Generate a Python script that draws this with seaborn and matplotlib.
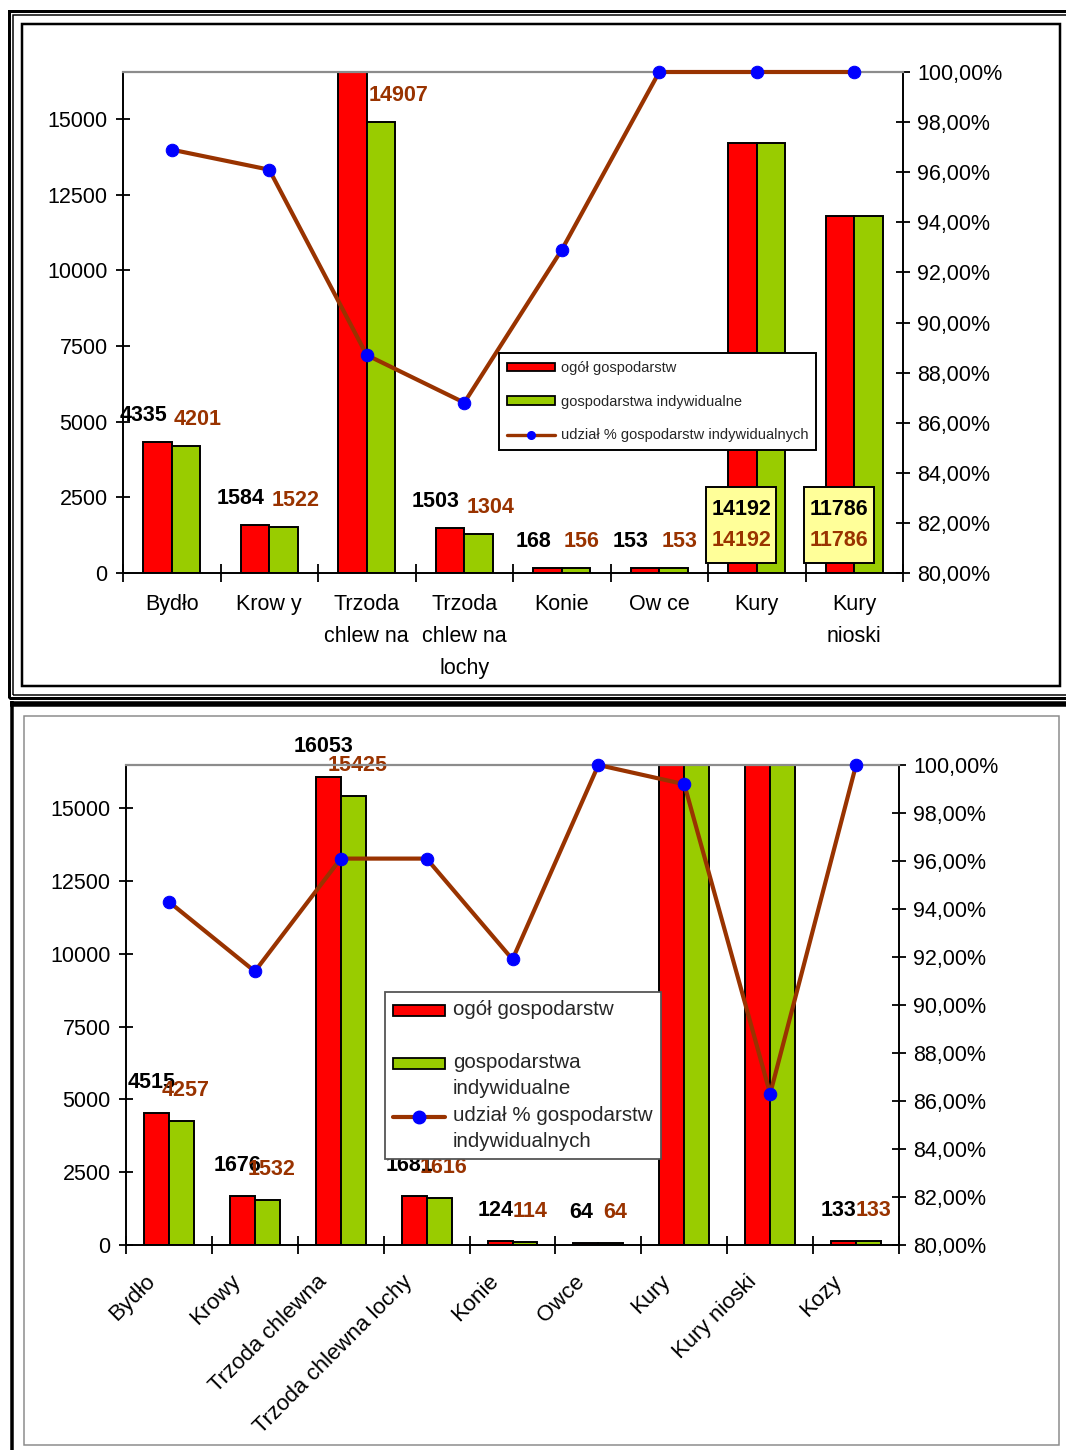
import numpy as np
import pandas as pd
import matplotlib
matplotlib.use("Agg")
import matplotlib.pyplot as plt
import matplotlib.transforms as mtransforms
import seaborn as sns
from matplotlib.patches import Rectangle, Patch
from matplotlib.lines import Line2D
from matplotlib.legend_handler import HandlerPatch, HandlerLine2D
from matplotlib.ticker import FuncFormatter

# ---------------- data ----------------
series_names = ["ogół gospodarstw", "gospodarstwa indywidualne"]
share_name = "udział % gospodarstw indywidualnych"

top_categories = ["Bydło", "Krow y", "Trzoda\nchlew na", "Trzoda\nchlew na\nlochy",
                  "Konie", "Ow ce", "Kury", "Kury\nnioski"]
top_total = [4335, 1584, 16800, 1503, 168, 153, 14192, 11786]
top_indiv = [4201, 1522, 14907, 1304, 156, 153, 14192, 11786]
top_share = [96.9, 96.1, 88.7, 86.8, 92.9, 100.0, 100.0, 100.0]
top_boxed = ["Kury", "Kury\nnioski"]

bottom_categories = ["Bydło", "Krowy", "Trzoda chlewna", "Trzoda chlewna lochy",
                     "Konie", "Owce", "Kury", "Kury nioski", "Kozy"]
bottom_total = [4515, 1676, 16053, 1681, 124, 64, 21800, 19500, 133]
bottom_indiv = [4257, 1532, 15425, 1616, 114, 64, 21620, 16830, 133]
bottom_share = [94.3, 91.4, 96.1, 96.1, 91.9, 100.0, 99.2, 86.3, 100.0]
bottom_legend_labels = ["ogół gospodarstw\n ", "gospodarstwa\nindywidualne",
                        "udział % gospodarstw\nindywidualnych"]

left_ticks = [0, 2500, 5000, 7500, 10000, 12500, 15000]
right_ticks = [80, 82, 84, 86, 88, 90, 92, 94, 96, 98, 100]

RED = "#FF0000"
GREEN = "#99CC00"
BROWN = "#993300"
BLUE = "#0000FF"
YELLOW = "#FFFF99"
TICK_FS = 15.5
LABEL_FS = 15.5

sns.set_theme(style="white")
plt.rcParams["font.family"] = ["Liberation Sans", "DejaVu Sans"]

W, H = 1066, 1450
fig = plt.figure(figsize=(W / 100, H / 100), dpi=100)
fig.patch.set_facecolor("white")


def px_rect(x0, y0, x1, y1, lw_px, color="black"):
    fig.add_artist(Rectangle((x0 / W, 1 - y1 / H), (x1 - x0) / W, (y1 - y0) / H,
                             transform=fig.transFigure, fill=False,
                             edgecolor=color, linewidth=lw_px * 0.72))


def px_line(x0, y0, x1, y1, lw_px, color="black"):
    fig.add_artist(Line2D([x0 / W, x1 / W], [1 - y0 / H, 1 - y1 / H],
                          transform=fig.transFigure, color=color,
                          linewidth=lw_px * 0.72, solid_capstyle="butt"))


# frames
px_rect(8.5, 11, 1075, 698, 3)
px_rect(12.5, 14.5, 1071, 695, 1.5)
px_rect(22, 24, 1060, 686, 2.5)
px_line(10, 703.5, 1070, 703.5, 5.5)
px_line(11.5, 701, 11.5, 1452, 3.5)
px_rect(24, 716, 1059, 1445, 1.5, color="#8a8a8a")

pct_fmt = FuncFormatter(lambda v, p: f"{v:.2f}".replace(".", ",") + "%")


def make_chart(ax, cats, total, indiv, share, ymax, marker_size):
    n = len(cats)
    df = pd.DataFrame({"kategoria": cats * 2,
                       "wartość": total + indiv,
                       "seria": [series_names[0]] * n + [series_names[1]] * n})
    sns.barplot(data=df, x="kategoria", y="wartość", hue="seria", order=cats,
                hue_order=series_names, palette=[RED, GREEN], saturation=1,
                width=0.58, gap=0, errorbar=None, edgecolor="black",
                linewidth=1.4, legend=False, ax=ax)
    ax.set_ylim(0, ymax)
    ax.set_xlabel("")
    ax.set_ylabel("")
    ax.set_yticks(left_ticks)
    ax.tick_params(axis="y", which="major", left=True, direction="inout", length=10,
                   width=1.3, labelsize=TICK_FS, pad=6, color="black", labelcolor="black")
    ax.set_xticks(np.arange(-0.5, n, 1), minor=True)
    ax.tick_params(axis="x", which="minor", bottom=True, direction="inout", length=13,
                   width=1.3, color="black")
    ax.tick_params(axis="x", which="major", bottom=True, length=0, labelsize=TICK_FS,
                   labelcolor="black")
    for s in ("top", "right"):
        ax.spines[s].set_visible(False)
    for s in ("left", "bottom"):
        ax.spines[s].set_color("black")
        ax.spines[s].set_linewidth(1.4)

    ax2 = ax.twinx()
    sns.lineplot(x=np.arange(n), y=share, ax=ax2, color=BROWN, linewidth=3,
                 marker="o", markersize=marker_size, markerfacecolor=BLUE,
                 markeredgecolor=BLUE, clip_on=False, zorder=5)
    ax2.set_ylim(80, 100)
    ax.set_xlim(-0.5, n - 0.5)
    ax2.set_yticks(right_ticks)
    ax2.yaxis.set_major_formatter(pct_fmt)
    ax2.tick_params(axis="y", right=True, direction="inout", length=10, width=1.3,
                    labelsize=TICK_FS, pad=5, color="black", labelcolor="black")
    ax2.set_ylabel("")
    ax2.set_xlabel("")
    ax2.spines["top"].set_color("#8c8c8c")
    ax2.spines["top"].set_linewidth(1.6)
    ax2.spines["right"].set_color("black")
    ax2.spines["right"].set_linewidth(1.4)
    ax2.spines["left"].set_visible(False)
    ax2.spines["bottom"].set_visible(False)
    ax2.patch.set_visible(False)
    return ax2


class ShiftPatch(HandlerPatch):
    def __init__(self, shift, **kw):
        super().__init__(**kw)
        self.shift = shift

    def create_artists(self, legend, orig_handle, xdescent, ydescent, width, height,
                       fontsize, trans):
        return super().create_artists(legend, orig_handle, xdescent,
                                      ydescent - self.shift, width, height, fontsize, trans)


class ShiftLine(HandlerLine2D):
    def __init__(self, shift, **kw):
        super().__init__(**kw)
        self.shift = shift

    def create_artists(self, *args, **kwargs):
        arts = super().create_artists(*args, **kwargs)
        for a in arts:
            a.set_ydata(np.asarray(a.get_ydata(), dtype=float) + self.shift)
        return arts


# ---------------- top chart ----------------
ax_t = fig.add_axes([123 / W, 1 - 573 / H, 780 / W, 501 / H])
ax_t2 = make_chart(ax_t, top_categories, top_total, top_indiv, top_share, 16550, 9)
ax_t.tick_params(axis="x", which="major", pad=15)
for lab in ax_t.get_xticklabels():
    lab.set_linespacing(1.7)
    lab.set_va("top")

blend_t = mtransforms.blended_transform_factory(ax_t.transData, ax_t.transAxes)
for i, cat in enumerate(top_categories):
    if cat in top_boxed:
        ax_t.add_patch(Rectangle((i - 0.52, 0.02), 0.72, 0.152, transform=blend_t,
                                 facecolor=YELLOW, edgecolor="black", linewidth=1.4,
                                 zorder=4))
        ax_t.text(i - 0.16, 0.126, f"{top_total[i]}", transform=blend_t, ha="center",
                  va="center", color="black", fontweight="bold", fontsize=LABEL_FS, zorder=5)
        ax_t.text(i - 0.16, 0.064, f"{top_indiv[i]}", transform=blend_t, ha="center",
                  va="center", color=BROWN, fontweight="bold", fontsize=LABEL_FS, zorder=5)
    else:
        ax_t.annotate(f"{top_total[i]}", xy=(i - 0.29, top_total[i]), xytext=(0, 19),
                      textcoords="offset points", ha="center", va="center",
                      color="black", fontweight="bold", fontsize=LABEL_FS, zorder=5)
        ax_t.annotate(f"{top_indiv[i]}", xy=(i + 0.02, top_indiv[i]), xytext=(0, 19),
                      textcoords="offset points", ha="left", va="center",
                      color=BROWN, fontweight="bold", fontsize=LABEL_FS, zorder=5)

handles_t = [Patch(facecolor=RED, edgecolor="black", linewidth=1.3),
             Patch(facecolor=GREEN, edgecolor="black", linewidth=1.3),
             Line2D([], [], color=BROWN, linewidth=2.4, marker="o", markersize=5.5,
                    markerfacecolor=BLUE, markeredgecolor=BLUE)]
leg_t = ax_t2.legend(handles_t, series_names + [share_name], loc="upper left",
                     bbox_to_anchor=(0.482, 0.439), borderaxespad=0, fontsize=10.5,
                     handlelength=3.3, handleheight=0.55, handletextpad=0.4,
                     labelspacing=1.35, borderpad=0.55, frameon=True, fancybox=False,
                     framealpha=1, edgecolor="black")
leg_t.get_frame().set_linewidth(1.4)
leg_t.set_zorder(10)

# ---------------- bottom chart ----------------
ax_b = fig.add_axes([126 / W, 1 - 1245 / H, 773 / W, 480 / H])
ax_b2 = make_chart(ax_b, bottom_categories, bottom_total, bottom_indiv, bottom_share,
                   16480, 9)
ax_b.tick_params(axis="x", which="major", pad=24)
shift_x = mtransforms.ScaledTranslation(-0.17, 0, fig.dpi_scale_trans)
for lab in ax_b.get_xticklabels():
    lab.set_rotation(45)
    lab.set_ha("right")
    lab.set_va("center")
    lab.set_rotation_mode("anchor")
    lab.set_fontsize(16)
    lab.set_transform(lab.get_transform() + shift_x)

for i in range(len(bottom_categories)):
    ax_b.annotate(f"{bottom_total[i]}", xy=(i - 0.2, bottom_total[i]), xytext=(0, 22),
                  textcoords="offset points", ha="center", va="center",
                  color="black", fontweight="bold", fontsize=LABEL_FS, zorder=5)
    ax_b.annotate(f"{bottom_indiv[i]}", xy=(i + 0.2, bottom_indiv[i]), xytext=(0, 22),
                  textcoords="offset points", ha="center", va="center",
                  color=BROWN, fontweight="bold", fontsize=LABEL_FS, zorder=5)

handles_b = [Patch(facecolor=RED, edgecolor="black", linewidth=1.3),
             Patch(facecolor=GREEN, edgecolor="black", linewidth=1.3),
             Line2D([], [], color=BROWN, linewidth=3, marker="o", markersize=9,
                    markerfacecolor=BLUE, markeredgecolor=BLUE)]
shift = 9.1
leg_b = ax_b2.legend(handles_b, bottom_legend_labels, loc="upper left",
                     bbox_to_anchor=(0.335, 0.527), borderaxespad=0, fontsize=14.8,
                     handlelength=2.5, handleheight=0.46, handletextpad=0.4,
                     labelspacing=0.35, borderpad=0.4, frameon=True, fancybox=False,
                     framealpha=1, edgecolor="#555555",
                     handler_map={Patch: ShiftPatch(shift), Line2D: ShiftLine(shift)})
leg_b.get_frame().set_linewidth(1.3)
for t in leg_b.get_texts():
    t.set_linespacing(1.5)
leg_b.set_zorder(10)

fig.savefig("out.png", dpi=100)
